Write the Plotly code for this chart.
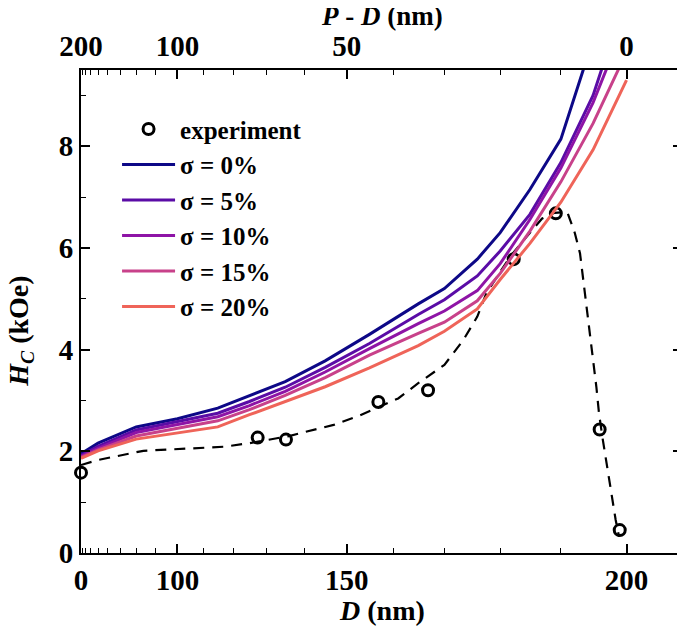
import numpy as np
import plotly.graph_objects as go

# simulated coercivity for each size dispersion (D in nm, Hc in kOe)
sim_D = [0, 50, 80, 100, 115, 125, 135, 145, 155, 165, 170, 176, 180, 185, 190, 195, 200]
hc_s0 = [1.95, 2.16, 2.48, 2.64, 2.85, 3.09, 3.37, 3.78, 4.30, 4.90, 5.20, 5.78, 6.30, 7.15, 8.14, 10.1, 12.0]
hc_s5 = [1.92, 2.10, 2.42, 2.58, 2.75, 2.98, 3.26, 3.65, 4.12, 4.69, 4.98, 5.45, 5.94, 6.66, 7.68, 9.0, 11.0]
hc_s10 = [1.90, 2.06, 2.37, 2.52, 2.68, 2.90, 3.18, 3.56, 4.02, 4.51, 4.76, 5.16, 5.69, 6.56, 7.57, 8.86, 10.5]
hc_s15 = [1.88, 2.03, 2.30, 2.45, 2.60, 2.82, 3.10, 3.45, 3.89, 4.32, 4.54, 4.96, 5.50, 6.33, 7.30, 8.45, 9.85]
hc_s20 = [1.86, 2.01, 2.24, 2.36, 2.48, 2.72, 2.98, 3.27, 3.64, 4.08, 4.36, 4.80, 5.38, 6.09, 6.90, 7.93, 9.30]

# experiment
exp_D = [0, 127.4, 135.2, 156.9, 166.9, 182.3, 189.2, 196.0, 199.0]
exp_H = [1.58, 2.27, 2.23, 2.97, 3.20, 5.78, 6.68, 2.43, 0.45]

# dashed guide through the experimental points
fit_D = [0, 31, 50, 84, 117, 125, 136, 139, 147, 153, 161, 165, 170, 173.5, 176, 177.6,
         180.5, 181.7, 185, 187, 189, 191, 192.2, 193, 195.5, 195.9, 196.4, 196.9, 197.4,
         197.9, 198.4, 198.9]
fit_H = [1.73, 1.76, 1.83, 2.01, 2.09, 2.16, 2.30, 2.36, 2.52, 2.71, 3.04, 3.34, 3.70, 4.19,
         4.65, 5.11, 5.63, 5.83, 6.30, 6.58, 6.69, 6.71, 6.29, 5.89, 3.27, 2.75, 2.29, 1.89,
         1.44, 1.04, 0.65, 0.32]

labels = ['σ = 0%', 'σ = 5%', 'σ = 10%', 'σ = 15%', 'σ = 20%']
colors = ['#0d0887', '#5a0ca6', '#8e14a6', '#c8418a', '#ef6459']

bottom_ticks = [0, 100, 150, 200]
bottom_text = ['0', '100', '150', '200']
top_text = ['200', '100', '50', '0']
minor_D = [10, 20, 30, 40, 50, 60, 70, 80, 90, 110, 120, 130, 140, 160, 170, 180, 190]


def pos(d):
    # the horizontal axis of the original is linear in D^2.5
    return np.asarray(d, dtype=float) ** 2.5


FONT = 'Liberation Serif'
TICKFONT = dict(family=FONT, size=29, color='black', weight='bold')

fig = go.Figure()

fig.add_trace(go.Scatter(x=pos(fit_D), y=fit_H, mode='lines', showlegend=False,
                         line=dict(color='black', width=2.2, dash='11px,8px')))

fig.add_trace(go.Scatter(x=pos(exp_D), y=exp_H, mode='markers', name='experiment',
                         legendgroup='e', cliponaxis=False,
                         marker=dict(symbol='circle-open', size=11, color='black',
                                     line=dict(width=3, color='black'))))

for i, hc in enumerate([hc_s0, hc_s5, hc_s10, hc_s15, hc_s20]):
    fig.add_trace(go.Scatter(x=pos(sim_D), y=hc, mode='lines', name=labels[i],
                             legendgroup=f's{i}',
                             line=dict(color=colors[i], width=3)))

# dummy trace so the top axis exists
fig.add_trace(go.Scatter(x=pos([0, 200]), y=[None, None], xaxis='x2', showlegend=False,
                         hoverinfo='skip'))

x_range = [0, 207.9 ** 2.5]
axis_common = dict(showline=True, linecolor='black', linewidth=2, ticks='inside',
                   ticklen=9, tickwidth=1.6, tickcolor='black', showgrid=False,
                   zeroline=False, automargin=False, tickfont=TICKFONT)
minor_common = dict(ticks='inside', ticklen=5, tickwidth=1.4, tickcolor='black',
                    tickmode='array', tickvals=list(pos(minor_D)), showgrid=False)

# page body adds an 8px offset, so the figure is a bit smaller than the window
fig.update_layout(
    width=677, height=630,
    margin=dict(l=73, r=3, t=62, b=85),
    plot_bgcolor='white', paper_bgcolor='white',
    font=dict(family=FONT, color='black'),
    xaxis=dict(range=x_range, tickmode='array', tickvals=list(pos(bottom_ticks)),
               ticktext=bottom_text, minor=minor_common, mirror=False, **axis_common),
    xaxis2=dict(overlaying='x', side='top', matches='x', tickmode='array',
                tickvals=list(pos(bottom_ticks)), ticktext=top_text, minor=minor_common,
                **axis_common),
    yaxis=dict(range=[0, 9.5], tickmode='array', tickvals=[0, 2, 4, 6, 8], mirror='ticks',
               minor=dict(ticks='inside', ticklen=5, tickwidth=1.4, tickcolor='black',
                          tickmode='array', tickvals=[1, 3, 5, 7, 9], showgrid=False),
               **axis_common),
    legend=dict(x=0.06, y=0.925, xanchor='left', yanchor='top', bgcolor='rgba(0,0,0,0)',
                tracegroupgap=0, traceorder='grouped', itemwidth=53,
                font=dict(family=FONT, size=25, color='black', weight='bold')),
)

title_font = dict(family=FONT, size=28, color='black', weight='bold')
fig.add_annotation(text='<i>D</i> (nm)', xref='paper', yref='paper', x=0.5, y=-0.12,
                   xanchor='center', yanchor='middle', showarrow=False, font=title_font)
fig.add_annotation(text='<i>P</i> - <i>D</i> (nm)', xref='paper', yref='paper', x=0.5,
                   y=1.112, xanchor='center', yanchor='middle', showarrow=False,
                   font=dict(family=FONT, size=27, color='black', weight='bold'))
fig.add_annotation(text='<i>H</i><sub><i>C</i></sub> (kOe)', xref='paper', yref='paper',
                   x=-0.1, y=0.46, xanchor='center', yanchor='middle', textangle=-90,
                   showarrow=False, font=title_font)

fig.write_html("out.html")
